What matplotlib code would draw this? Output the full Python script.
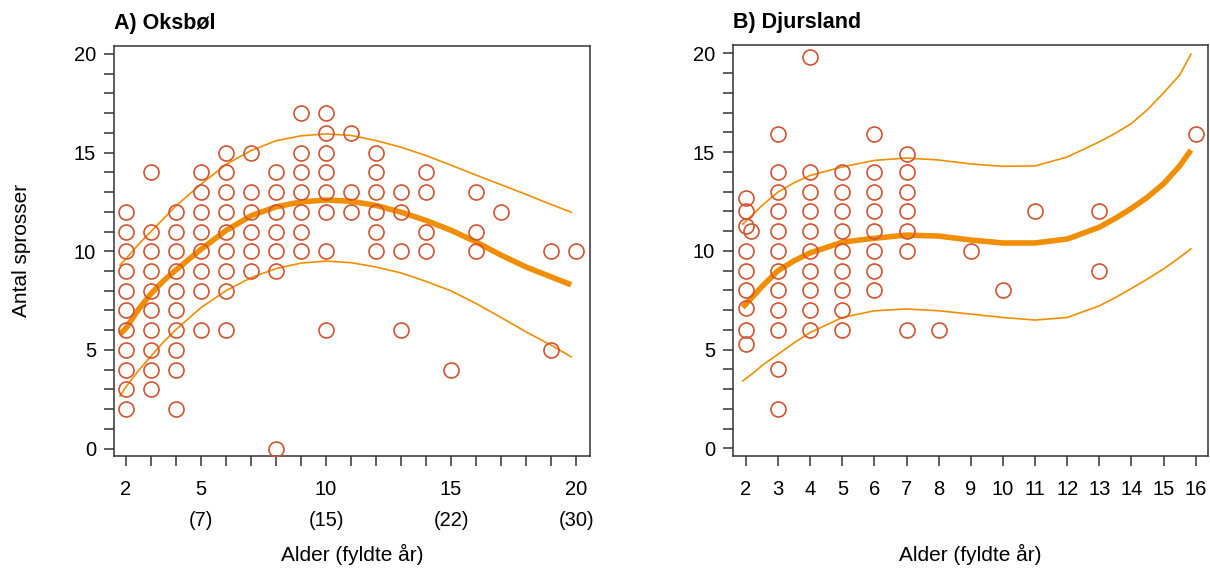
import numpy as np
import matplotlib.pyplot as plt

plt.rcParams['font.family'] = ['Liberation Sans', 'DejaVu Sans']

# Oksbøl: number of sprouts per tree, grouped by age
oks_age = [2, 3, 4, 5, 6, 7, 8, 9, 10, 11, 12, 13, 14, 15, 16, 17, 19, 20]
oks_count = [
    [12, 11, 10, 9, 8, 7, 6, 5, 4, 3, 2],
    [14, 11, 10, 9, 8, 7, 6, 5, 4, 3],
    [12, 11, 10, 9, 8, 7, 6, 5, 4, 2],
    [14, 13, 12, 11, 10, 9, 8, 6],
    [15, 14, 13, 12, 11, 10, 9, 8, 6],
    [15, 13, 12, 11, 10, 9],
    [14, 13, 12, 11, 10, 9, 0],
    [17, 15, 14, 13, 12, 11, 10],
    [17, 16, 15, 14, 13, 12, 10, 6],
    [16, 13, 12],
    [15, 14, 13, 12, 11, 10],
    [13, 12, 10, 6],
    [14, 13, 11, 10],
    [4],
    [13, 11, 10],
    [12],
    [10, 5],
    [10],
]

# Oksbøl fitted curve with prediction band
oks_fit_x = [1.76, 2, 2.5, 3, 3.5, 4, 5, 6, 7, 8, 9, 10, 11, 12, 13, 14, 15, 16, 17, 18, 19, 19.8]
oks_fit = [5.8, 6.1, 7.05, 7.85, 8.5, 9.05, 10.1, 11.05, 11.8, 12.25, 12.5, 12.6, 12.53, 12.32,
           11.98, 11.56, 11.06, 10.47, 9.8, 9.2, 8.7, 8.3]
oks_upper = [9.3, 9.62, 10.35, 11.0, 11.65, 12.3, 13.4, 14.4, 15.1, 15.6, 15.85, 15.95, 15.87, 15.61,
             15.27, 14.85, 14.36, 13.86, 13.37, 12.88, 12.37, 11.98]
oks_lower = [2.66, 3.13, 3.95, 4.68, 5.4, 6.03, 7.14, 8.0, 8.66, 9.12, 9.4, 9.5, 9.42, 9.2,
             8.9, 8.47, 7.99, 7.35, 6.64, 5.91, 5.24, 4.65]

oks_ticks = list(range(2, 21))
oks_ticklabels = {2: '2', 5: '5\n(7)', 10: '10\n(15)', 15: '15\n(22)', 20: '20\n(30)'}

# Djursland
djurs_age = [2, 3, 4, 5, 6, 7, 8, 9, 10, 11, 13, 16]
djurs_count = [
    [12.7, 12, 11.25, 10, 9, 8, 7.1, 6, 5.3],
    [15.9, 14, 13, 12, 11, 10, 9, 8, 7, 6, 4, 2],
    [19.8, 14, 13, 12, 11, 10, 9, 8, 7, 6],
    [14, 13, 12, 11, 10, 9, 8, 7, 6],
    [15.9, 14, 13, 12, 11, 10, 9, 8],
    [14.9, 14, 13, 12, 11, 10, 6],
    [6],
    [10],
    [8],
    [12],
    [12, 9],
    [15.9],
]
djurs_extra_x = [2.15]
djurs_extra_y = [11]

djurs_fit_x = [1.9, 2.25, 2.5, 3, 3.5, 4, 5, 6, 7, 8, 9, 10, 11, 12, 13, 13.5, 14, 14.5, 15,
               15.5, 15.85]
djurs_fit = [7.14, 7.75, 8.2, 9.0, 9.5, 9.9, 10.44, 10.64, 10.8, 10.75, 10.55, 10.4, 10.4, 10.6,
             11.2, 11.65, 12.15, 12.72, 13.4, 14.3, 15.1]
djurs_upper = [11.35, 11.9, 12.3, 12.98, 13.45, 13.82, 14.25, 14.58, 14.7, 14.6, 14.4, 14.28, 14.3,
               14.75, 15.52, 15.95, 16.45, 17.15, 18.0, 18.9, 19.95]
djurs_lower = [3.42, 3.85, 4.2, 4.77, 5.35, 5.87, 6.63, 6.97, 7.06, 6.97, 6.8, 6.63, 6.5, 6.63,
               7.22, 7.64, 8.1, 8.58, 9.09, 9.67, 10.1]

yticks = list(range(0, 21))
ylabels_shown = [0, 5, 10, 15, 20]

pt_color = '#d05430'
line_color = '#f08e00'
axis_color = '#333333'


def flatten(ages, counts):
    xs = np.repeat(ages, [len(c) for c in counts])
    ys = np.concatenate([np.asarray(c, float) for c in counts])
    return xs, ys


def style_axes(ax):
    for s in ax.spines.values():
        s.set_color(axis_color)
        s.set_linewidth(1.1)
    ax.tick_params(direction='out', length=7, width=1.1, color=axis_color,
                   labelsize=14.5, pad=6)
    ax.tick_params(axis='x', pad=10)
    ax.set_yticks(yticks)
    ax.set_yticklabels([str(v) if v in ylabels_shown else '' for v in yticks])
    ax.set_ylim(-0.38, 20.42)


def draw_panel(ax, xs, ys, fx, fit, up, lo):
    ax.plot(fx, up, color=line_color, lw=1.2, zorder=2)
    ax.plot(fx, lo, color=line_color, lw=1.2, zorder=2)
    ax.plot(fx, fit, color=line_color, lw=4, solid_capstyle='butt', zorder=2)
    ax.plot(xs, ys, 'o', ms=10.8, mfc='none', mec=pt_color, mew=1.2, zorder=3)


fig = plt.figure(figsize=(12.1, 5.71), dpi=100)
ax1 = fig.add_axes([0.0942, 0.2014, 0.3931, 0.7186])
ax2 = fig.add_axes([0.606, 0.2014, 0.3923, 0.7198])

# A) Oksbøl
x1, y1 = flatten(oks_age, oks_count)
draw_panel(ax1, x1, y1, oks_fit_x, oks_fit, oks_upper, oks_lower)
style_axes(ax1)
ax1.set_xlim(1.52, 20.54)
ax1.set_xticks(oks_ticks)
ax1.set_xticklabels([oks_ticklabels.get(t, '') for t in oks_ticks])
for lbl in ax1.get_xticklabels():
    lbl.set_linespacing(1.85)
ax1.set_title('A) Oksbøl', loc='left', fontsize=15.5, fontweight='bold', pad=12)
ax1.set_xlabel('Alder (fyldte år)', fontsize=15)
ax1.xaxis.set_label_coords(0.5, -0.215)
ax1.set_ylabel('Antal sprosser', fontsize=15)
ax1.yaxis.set_label_coords(-0.175, 0.5)

# B) Djursland
x2, y2 = flatten(djurs_age, djurs_count)
x2 = np.concatenate([x2, djurs_extra_x])
y2 = np.concatenate([y2, djurs_extra_y])
draw_panel(ax2, x2, y2, djurs_fit_x, djurs_fit, djurs_upper, djurs_lower)
style_axes(ax2)
ax2.set_xlim(1.605, 16.38)
ax2.set_xticks(range(2, 17))
ax2.set_title('B) Djursland', loc='left', fontsize=15.5, fontweight='bold', pad=12)
ax2.set_xlabel('Alder (fyldte år)', fontsize=15)
ax2.xaxis.set_label_coords(0.5, -0.215)

fig.savefig('out.png', dpi=100)
